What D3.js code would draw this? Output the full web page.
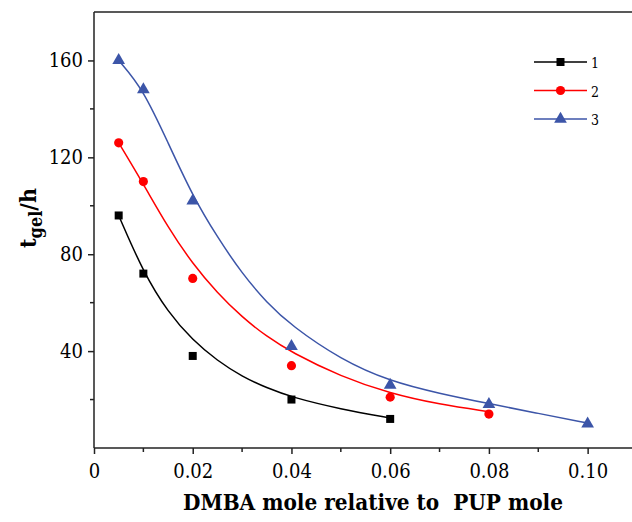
<!DOCTYPE html>
<html>
<head>
<meta charset="utf-8">
<script src="https://cdn.jsdelivr.net/npm/d3@7"></script>
<style>
  body { margin: 0; background: #fff; }
  svg text { font-family: "DejaVu Serif", serif; font-stretch: condensed; }
</style>
</head>
<body>
<div id="chart"></div>
<script>
// measured points
const doseX = [0.005, 0.01, 0.02, 0.04, 0.06, 0.08, 0.10];
const series1 = [96, 72, 38, 20, 12];
const series2 = [126, 110, 70, 34, 21, 14];
const series3 = [160, 148, 102, 42, 26, 18, 10];

// fitted curves
const fitX = [0.005, 0.01, 0.015, 0.02, 0.025, 0.03, 0.035, 0.04, 0.05, 0.06, 0.07, 0.08, 0.09, 0.10];
const fit1 = [96, 72.5, 56, 44.5, 36, 29.5, 24.8, 21, 16, 12.4];
const fit2 = [126, 109, 91, 76, 64, 54, 46, 39.5, 29.5, 22.5, 18, 15];
const fit3 = [160, 148, 126, 104, 87, 72, 60, 50.5, 36.5, 27.5, 22.5, 18.3, 14.3, 10.3];

const seriesNames = ["1", "2", "3"];
const seriesColors = ["#000000", "#ff0000", "#3c55a8"];
const seriesShapes = [d3.symbolSquare, d3.symbolCircle, d3.symbolTriangle];

const xTicks = [0, 0.02, 0.04, 0.06, 0.08, 0.10];
const xMinor = [0.01, 0.03, 0.05, 0.07, 0.09];
const yTicks = [40, 80, 120, 160];
const yMinor = [20, 60, 100, 140];

const width = 632, height = 522;
const margin = {top: 12, left: 94, bottom: 74};

const svg = d3.select("#chart").append("svg")
  .attr("width", width).attr("height", height);

const x = d3.scaleLinear().domain([0, 0.11]).range([margin.left, margin.left + 543]);
const y = d3.scaleLinear().domain([0, 180]).range([height - margin.bottom, margin.top]);

// frame
svg.append("line")
  .attr("x1", x(0)).attr("x2", x(0.11)).attr("y1", y(180)).attr("y2", y(180))
  .attr("stroke", "#222").attr("stroke-width", 1.5);

// x axis
const xAxis = svg.append("g").attr("transform", `translate(0,${y(0)})`)
  .call(d3.axisBottom(x).tickValues(xTicks).tickSize(6).tickPadding(10)
    .tickFormat(d => d === 0 ? "0" : d3.format(".2f")(d)));
xAxis.append("g").selectAll("line").data(xMinor).join("line")
  .attr("x1", d => x(d)).attr("x2", d => x(d)).attr("y1", 0).attr("y2", 4)
  .attr("stroke", "#222").attr("stroke-width", 1.5);

// y axis
const yAxis = svg.append("g").attr("transform", `translate(${x(0)},0)`)
  .call(d3.axisLeft(y).tickValues(yTicks).tickSize(6).tickPadding(5));
yAxis.append("g").selectAll("line").data(yMinor).join("line")
  .attr("y1", d => y(d)).attr("y2", d => y(d)).attr("x1", 0).attr("x2", -4)
  .attr("stroke", "#222").attr("stroke-width", 1.5);

svg.selectAll(".domain").attr("stroke", "#222").attr("stroke-width", 1.5);
svg.selectAll(".tick line").attr("stroke", "#222").attr("stroke-width", 1.5);
svg.selectAll(".tick text").attr("font-size", 20).attr("fill", "#000");
xAxis.select(".domain").attr("d", `M${x(0)},0H${x(0.11)}`);
yAxis.select(".domain").attr("d", `M0,${y(0)}V${y(180)}`);

// fitted curves
const fits = [fit1, fit2, fit3];
const line = d3.line().x(d => x(d[0])).y(d => y(d[1])).curve(d3.curveBasis);
fits.forEach((f, i) => {
  svg.append("path")
    .datum(f.map((v, j) => [fitX[j], v]))
    .attr("d", line)
    .attr("fill", "none")
    .attr("stroke", seriesColors[i])
    .attr("stroke-width", 1.5);
});

// points
const symSizes = [64, 66, 70];
[series1, series2, series3].forEach((s, i) => {
  svg.append("g").selectAll("path").data(s.map((v, j) => [doseX[j], v])).join("path")
    .attr("transform", d => `translate(${x(d[0])},${y(d[1])})`)
    .attr("d", d3.symbol(seriesShapes[i], symSizes[i]))
    .attr("fill", seriesColors[i]);
});

// legend
const legend = svg.append("g").attr("transform", "translate(534,62)");
seriesNames.forEach((name, i) => {
  const g = legend.append("g").attr("transform", `translate(0,${i * 28.5})`);
  g.append("line").attr("x1", 0).attr("x2", 53).attr("y1", 0).attr("y2", 0)
    .attr("stroke", seriesColors[i]).attr("stroke-width", 1.5);
  g.append("path").attr("transform", "translate(26.5,0)")
    .attr("d", d3.symbol(seriesShapes[i], symSizes[i]))
    .attr("fill", seriesColors[i]);
  g.append("text").attr("x", 57).attr("y", 6).attr("font-size", 14).text(name);
});

// axis titles
svg.append("text")
  .attr("x", 183).attr("y", 510)
  .attr("textLength", 380).attr("lengthAdjust", "spacingAndGlyphs")
  .attr("font-size", 22).attr("font-weight", "bold")
  .attr("xml:space", "preserve")
  .text("DMBA mole relative to  PUP mole");

const yt = svg.append("text")
  .attr("transform", "translate(36,218) rotate(-90)")
  .attr("text-anchor", "middle")
  .attr("font-size", 23).attr("font-weight", "bold");
yt.append("tspan").text("t");
yt.append("tspan").attr("font-size", 18).attr("dy", 6).text("gel");
yt.append("tspan").attr("dy", -6).text("/h");
</script>
</body>
</html>
